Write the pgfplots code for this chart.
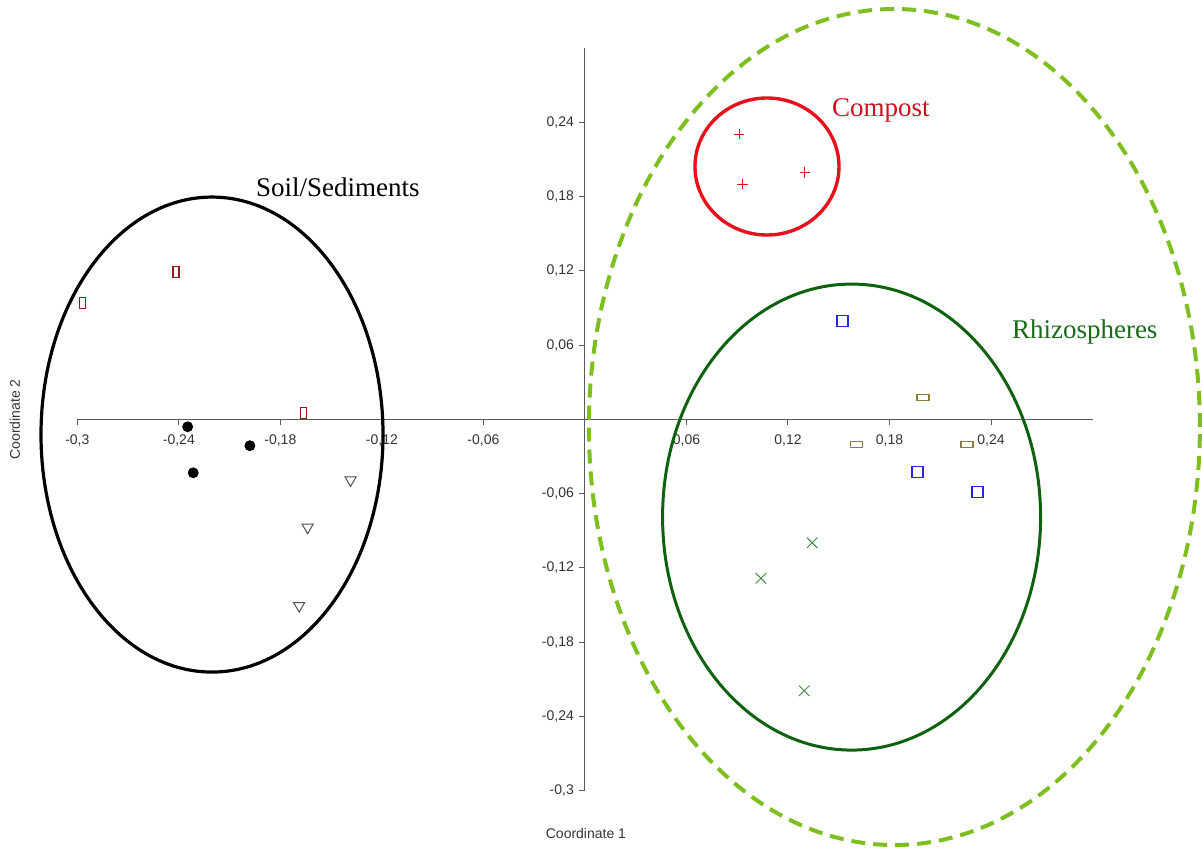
\documentclass[border=0pt]{standalone}
\usepackage{pgfplots}
\pgfplotsset{compat=1.18}
\usepackage{fontspec}
\setmainfont{Liberation Sans}
\newfontfamily\serifgrp{Liberation Serif}
\definecolor{soilred}{HTML}{8B1A1A}
\definecolor{olivem}{HTML}{8C7E3C}
\definecolor{bluem}{HTML}{2626E0}
\definecolor{greenx}{HTML}{3C8A3C}
\definecolor{compostred}{HTML}{E8101C}
\definecolor{composttext}{HTML}{D0101E}
\definecolor{rhizgreen}{HTML}{0E610E}
\definecolor{rhiztext}{HTML}{1A6A1A}
\definecolor{dashgreen}{HTML}{7CBF1E}
\definecolor{axisgray}{HTML}{5A5A5A}
\definecolor{trigray}{HTML}{505050}
\begin{document}
\begin{tikzpicture}
\begin{axis}[
  scale only axis,
  width=507.6pt, height=371.1pt,
  xmin=-0.3, xmax=0.3, ymin=-0.3, ymax=0.3,
  axis lines=middle,
  axis line style={-, color=axisgray, line width=0.5pt},
  clip=false,
  tick align=outside,
  major tick length=3pt,
  tick style={color=axisgray, line width=0.5pt},
  xtick={-0.3,-0.24,-0.18,-0.12,-0.06,0.06,0.12,0.18,0.24},
  xticklabels={{-0,3},{-0,24},{-0,18},{-0,12},{-0,06},{0,06},{0,12},{0,18},{0,24}},
  ytick={-0.3,-0.24,-0.18,-0.12,-0.06,0.06,0.12,0.18,0.24},
  yticklabels={{-0,3},{-0,24},{-0,18},{-0,12},{-0,06},{0,06},{0,12},{0,18},{0,24}},
  ticklabel style={font=\fontsize{7}{8}\selectfont, text=black!80},
  xticklabel style={yshift=-1pt},
  yticklabel style={xshift=1pt},
]
% ellipses
\draw[black, line width=1.6pt] (axis cs:-0.2204,-0.0123) ellipse [x radius=85.5pt, y radius=118.75pt];
\draw[compostred, line width=1.7pt] (axis cs:0.1076,0.2044) ellipse [x radius=36pt, y radius=34.25pt];
\draw[rhizgreen, line width=1.5pt] (axis cs:0.1576,-0.0790) ellipse [x radius=94.5pt, y radius=116.5pt];
\draw[dashgreen, line width=2pt, dash pattern=on 7pt off 4pt] (axis cs:0.1829,-0.0062) ellipse [x radius=152.75pt, y radius=209pt];

% Soil/Sediments
\addplot[only marks, mark=square, mark size=2.75pt, mark options={xscale=0.55, soilred, line width=0.6pt}]
  coordinates {(-0.2971,0.0943) (-0.2417,0.1193) (-0.1665,0.0049)};
\addplot[only marks, mark=*, mark size=2.5pt, mark options={black, fill=black}]
  coordinates {(-0.2348,-0.0060) (-0.1980,-0.0213) (-0.2315,-0.0432)};
\addplot[only marks, mark=triangle, mark size=3.2pt, mark options={rotate=180, trigray, line width=0.5pt}]
  coordinates {(-0.1385,-0.0491) (-0.1639,-0.0873) (-0.1689,-0.1507)};
% Compost
\addplot[only marks, mark=+, mark size=2.6pt, mark options={compostred, line width=0.4pt}]
  coordinates {(0.0912,0.2306) (0.0932,0.1902) (0.1300,0.1994)};
% Rhizospheres
\addplot[only marks, mark=square, mark size=2.75pt, mark options={bluem, line width=0.7pt}]
  coordinates {(0.1523,0.0797) (0.1966,-0.0428) (0.2321,-0.0585)};
\addplot[only marks, mark=square, mark size=3pt, mark options={yscale=0.5, olivem, line width=0.7pt}]
  coordinates {(0.1999,0.0175) (0.1606,-0.0202) (0.2259,-0.0202)};
\addplot[only marks, mark=x, mark size=3.7pt, mark options={greenx, line width=0.5pt}]
  coordinates {(0.1343,-0.0998) (0.1040,-0.1285) (0.1296,-0.2194)};

% group labels
\node[anchor=base, font=\serifgrp\fontsize{13.5}{15}\selectfont, text=black] at (axis cs:-0.1460,0.1805) {Soil/Sediments};
\node[anchor=base, font=\serifgrp\fontsize{13.5}{15}\selectfont, text=composttext] at (axis cs:0.1749,0.2446) {Compost};
\node[anchor=base, font=\serifgrp\fontsize{13.5}{15}\selectfont, text=rhiztext] at (axis cs:0.2954,0.0655) {Rhizospheres};

% axis titles
\node[font=\fontsize{7}{8}\selectfont, text=black!80] at (axis cs:0.0006,-0.3344) {Coordinate 1};
\node[font=\fontsize{7}{8}\selectfont, text=black!80, rotate=90] at (axis cs:-0.3369,0) {Coordinate 2};

\coordinate (bbll) at (axis cs:-0.3457,-0.3458);
\coordinate (bbur) at (axis cs:0.3647,0.3390);
\end{axis}
\pgfresetboundingbox
\path[use as bounding box] (bbll) rectangle (bbur);
\end{tikzpicture}
\end{document}
